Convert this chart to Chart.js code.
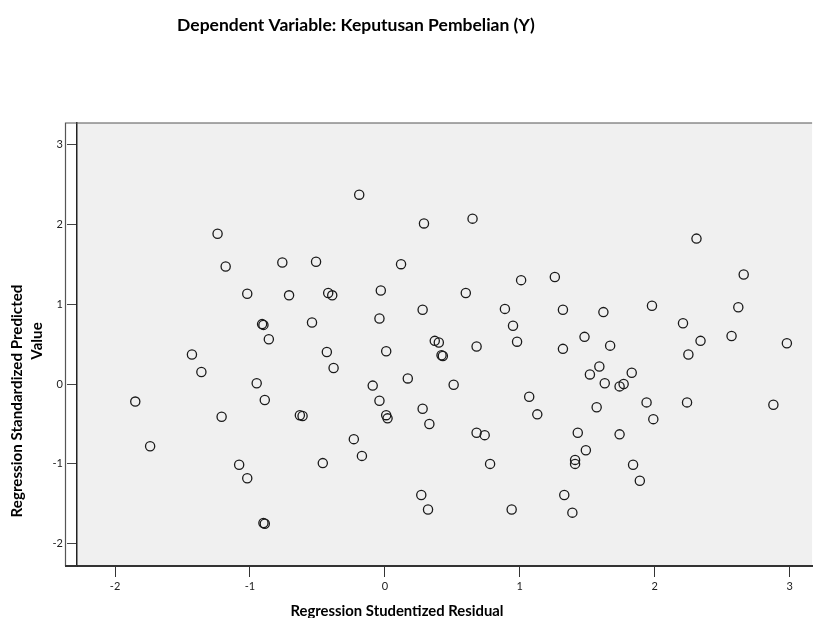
<!DOCTYPE html>
<html>
<head>
<meta charset="utf-8">
<style>
  html, body { margin: 0; padding: 0; background: #fff; }
  canvas { display: block; }
</style>
<script src="https://cdn.jsdelivr.net/npm/chart.js@4.4.1/dist/chart.umd.min.js"></script>
</head>
<body>
<canvas id="myChart" width="818" height="618"></canvas>
<script>
const titleText = 'Dependent Variable: Keputusan Pembelian (Y)';
const xTitle = 'Regression Studentized Residual';
const yTitle = ['Regression Standardized Predicted', 'Value'];
const xTicks = [-2, -1, 0, 1, 2, 3];
const yTicks = [-2, -1, 0, 1, 2, 3];

// Studentized residual (x) and standardized predicted value (y)
const residual = [
  -1.85, -1.74, -1.43, -1.36, -1.24, -1.21, -1.18, -1.08, -1.02, -1.02,
  -0.95, -0.91, -0.90, -0.90, -0.89, -0.89, -0.86, -0.76, -0.71, -0.63,
  -0.61, -0.54, -0.51, -0.46, -0.43, -0.42, -0.39, -0.38, -0.23, -0.19,
  -0.17, -0.09, -0.04, -0.04, -0.03, 0.01, 0.02, 0.01, 0.12, 0.17,
  0.27, 0.28, 0.28, 0.29, 0.32, 0.33, 0.37, 0.40, 0.42, 0.43,
  0.51, 0.60, 0.65, 0.68, 0.74, 0.68, 0.78, 0.89, 0.94, 0.95,
  0.98, 1.01, 1.07, 1.13, 1.26, 1.32, 1.32, 1.33, 1.39, 1.41,
  1.41, 1.43, 1.48, 1.49, 1.52, 1.57, 1.59, 1.62, 1.63, 1.67,
  1.74, 1.77, 1.74, 1.83, 1.84, 1.89, 1.94, 1.98, 1.99, 2.21,
  2.24, 2.25, 2.31, 2.34, 2.57, 2.62, 2.66, 2.88, 2.98
];
const predicted = [
  -0.22, -0.78, 0.37, 0.15, 1.88, -0.41, 1.47, -1.01, 1.13, -1.18,
  0.01, 0.75, 0.74, -1.74, -1.75, -0.20, 0.56, 1.52, 1.11, -0.39,
  -0.40, 0.77, 1.53, -0.99, 0.40, 1.14, 1.11, 0.20, -0.69, 2.37,
  -0.90, -0.02, 0.82, -0.21, 1.17, -0.39, -0.43, 0.41, 1.50, 0.07,
  -1.39, 0.93, -0.31, 2.01, -1.57, -0.50, 0.54, 0.52, 0.36, 0.35,
  -0.01, 1.14, 2.07, -0.61, -0.64, 0.47, -1.00, 0.94, -1.57, 0.73,
  0.53, 1.30, -0.16, -0.38, 1.34, 0.93, 0.44, -1.39, -1.61, -0.95,
  -1.00, -0.61, 0.59, -0.83, 0.12, -0.29, 0.22, 0.90, 0.01, 0.48,
  -0.03, 0.00, -0.63, 0.14, -1.01, -1.21, -0.23, 0.98, -0.44, 0.76,
  -0.23, 0.37, 1.82, 0.54, 0.60, 0.96, 1.37, -0.26, 0.51
];

const points = residual.map((x, i) => ({ x: x, y: predicted[i] }));

// font size that makes text span a given width
function fitSize(ctx, text, target) {
  ctx.font = 'bold 20px Lato';
  return 20 * target / ctx.measureText(text).width;
}

// grey plot background, SPSS-style frame and the titles
const spssFrame = {
  id: 'spssFrame',
  beforeDraw(chart) {
    const { ctx, chartArea: a } = chart;
    ctx.save();
    ctx.fillStyle = '#f0f0f0';
    ctx.fillRect(a.left, a.top, a.right - a.left, a.bottom - a.top);
    ctx.restore();
  },
  afterDraw(chart) {
    const { ctx, chartArea: a } = chart;
    ctx.save();
    ctx.strokeStyle = '#555';
    ctx.lineWidth = 1.2;
    ctx.beginPath();
    ctx.moveTo(65.5, a.bottom);
    ctx.lineTo(65.5, a.top);
    ctx.lineTo(a.right, a.top);
    ctx.stroke();
    ctx.beginPath();
    ctx.moveTo(65, a.bottom);
    ctx.lineTo(a.left, a.bottom);
    ctx.lineWidth = 2;
    ctx.strokeStyle = '#333';
    ctx.stroke();

    ctx.fillStyle = '#000';
    ctx.textAlign = 'center';
    ctx.textBaseline = 'middle';

    let s = fitSize(ctx, titleText, 358);
    ctx.font = 'bold ' + s + 'px Lato';
    ctx.fillText(titleText, 356, 25);

    s = fitSize(ctx, xTitle, 213);
    ctx.font = 'bold ' + s + 'px Lato';
    ctx.fillText(xTitle, 397, 611);

    s = fitSize(ctx, yTitle[0], 233);
    ctx.font = 'bold ' + s + 'px Lato';
    ctx.save();
    ctx.translate(17, 401);
    ctx.rotate(-Math.PI / 2);
    ctx.fillText(yTitle[0], 0, 0);
    ctx.restore();
    ctx.save();
    ctx.translate(37, 341);
    ctx.rotate(-Math.PI / 2);
    ctx.fillText(yTitle[1], 0, 0);
    ctx.restore();
    ctx.restore();
  }
};

const ctx = document.getElementById('myChart').getContext('2d');

const myChart = new Chart(ctx, {
  type: 'scatter',
  data: {
    datasets: [{
      data: points,
      pointStyle: 'circle',
      pointRadius: 4.6,
      pointBorderWidth: 1.3,
      borderColor: '#1a1a1a',
      backgroundColor: 'rgba(0,0,0,0)'
    }]
  },
  options: {
    responsive: false,
    animation: false,
    devicePixelRatio: 1,
    layout: { padding: { top: 123, left: 0, right: 0, bottom: 0 } },
    plugins: {
      legend: { display: false },
      tooltip: { enabled: false }
    },
    scales: {
      x: {
        type: 'linear',
        min: -2.282,
        max: 3.167,
        afterFit: scale => { scale.height = 52; },
        afterBuildTicks: scale => { scale.ticks = xTicks.map(v => ({ value: v })); },
        grid: { drawOnChartArea: false, drawTicks: true, tickLength: 11, color: '#333', lineWidth: 1 },
        border: { display: true, color: '#333', width: 2 },
        ticks: { color: '#222', font: { family: 'Lato', size: 11 }, padding: 3, maxRotation: 0 }
      },
      y: {
        type: 'linear',
        min: -2.278,
        max: 3.267,
        afterFit: scale => { scale.width = 77; },
        afterBuildTicks: scale => { scale.ticks = yTicks.map(v => ({ value: v })); },
        grid: { drawOnChartArea: false, drawTicks: true, tickLength: 10, color: '#444', lineWidth: 1 },
        border: { display: true, color: '#222', width: 1.5 },
        ticks: { color: '#222', font: { family: 'Lato', size: 11 }, padding: 4 }
      }
    }
  },
  plugins: [spssFrame]
});
</script>
</body>
</html>
